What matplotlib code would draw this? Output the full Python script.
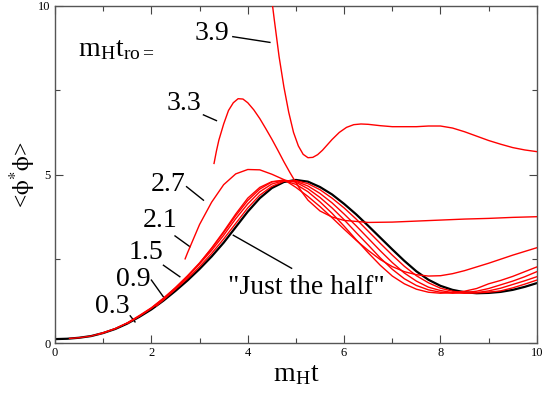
import numpy as np
import matplotlib
matplotlib.use('Agg')
import matplotlib.pyplot as plt

plt.rcParams['font.family'] = ['Liberation Serif', 'DejaVu Serif']
plt.rcParams['mathtext.fontset'] = 'stix'

# "Just the half" (black)
t_half = [0.0, 0.25, 0.5, 0.75, 1.0, 1.25, 1.5, 1.75, 2.0, 2.25, 2.5, 2.75, 3.0, 3.25,
          3.5, 3.75, 4.0, 4.25, 4.5, 4.75, 5.0, 5.25, 5.5, 5.75, 6.0, 6.25, 6.5, 6.75,
          7.0, 7.25, 7.5, 7.75, 8.0, 8.25, 8.5, 8.75, 9.0, 9.25, 9.5, 9.75, 10.0]
v_half = [0.12, 0.13, 0.16, 0.21, 0.30, 0.42, 0.58, 0.78, 1.00, 1.26, 1.55, 1.86, 2.20, 2.57,
          2.98, 3.44, 3.90, 4.30, 4.60, 4.78, 4.84, 4.79, 4.63, 4.41, 4.13, 3.82, 3.48, 3.13,
          2.78, 2.44, 2.13, 1.88, 1.70, 1.58, 1.51, 1.48, 1.49, 1.52, 1.58, 1.67, 1.78]

# readout curves (red)
t_03 = [0.3, 0.5, 0.75, 1.0, 1.25, 1.5, 1.75, 2.0, 2.25, 2.5, 2.75, 3.0, 3.25, 3.5, 3.75,
        4.0, 4.25, 4.5, 4.75, 5.0, 5.25, 5.5, 5.75, 6.0, 6.25, 6.5, 6.75, 7.0, 7.25, 7.5,
        7.75, 8.0, 8.25, 8.5, 8.75, 9.0, 9.25, 9.5, 9.75, 10.0]
v_03 = [0.14, 0.16, 0.21, 0.31, 0.43, 0.60, 0.80, 1.03, 1.30, 1.60, 1.92, 2.27, 2.66, 3.09, 3.55,
        4.01, 4.39, 4.65, 4.80, 4.82, 4.73, 4.55, 4.30, 4.01, 3.68, 3.32, 2.96, 2.61, 2.28, 2.00,
        1.79, 1.63, 1.54, 1.49, 1.49, 1.51, 1.55, 1.64, 1.75, 1.87]

t_09 = [0.9, 1.0, 1.25, 1.5, 1.75, 2.0, 2.25, 2.5, 2.75, 3.0, 3.25, 3.5, 3.75, 4.0, 4.25,
        4.5, 4.75, 5.0, 5.25, 5.5, 5.75, 6.0, 6.25, 6.5, 6.75, 7.0, 7.25, 7.5, 7.75, 8.0,
        8.25, 8.5, 8.75, 9.0, 9.25, 9.5, 9.75, 10.0]
v_09 = [0.26, 0.30, 0.43, 0.60, 0.82, 1.05, 1.33, 1.64, 1.98, 2.35, 2.75, 3.20, 3.69, 4.13, 4.49,
        4.72, 4.82, 4.80, 4.66, 4.44, 4.16, 3.83, 3.48, 3.11, 2.74, 2.39, 2.08, 1.84, 1.66, 1.56,
        1.50, 1.48, 1.50, 1.55, 1.63, 1.74, 1.85, 1.97]

t_15 = [1.5, 1.75, 2.0, 2.25, 2.5, 2.75, 3.0, 3.25, 3.5, 3.75, 4.0, 4.25, 4.5, 4.75, 5.0,
        5.25, 5.5, 5.75, 6.0, 6.25, 6.5, 6.75, 7.0, 7.25, 7.5, 7.75, 8.0, 8.25, 8.5, 8.75,
        9.0, 9.25, 9.5, 9.75, 10.0]
v_15 = [0.58, 0.80, 1.04, 1.33, 1.65, 2.00, 2.38, 2.81, 3.28, 3.78, 4.23, 4.57, 4.78, 4.84, 4.77,
        4.58, 4.32, 4.01, 3.66, 3.28, 2.91, 2.53, 2.19, 1.91, 1.71, 1.58, 1.51, 1.48, 1.50, 1.54,
        1.62, 1.73, 1.84, 1.97, 2.12]

t_21 = [2.1, 2.25, 2.5, 2.75, 3.0, 3.25, 3.5, 3.75, 4.0, 4.25, 4.5, 4.75, 5.0, 5.25, 5.5,
        5.75, 6.0, 6.25, 6.5, 6.75, 7.0, 7.25, 7.5, 7.75, 8.0, 8.25, 8.5, 8.75, 9.0, 9.25,
        9.5, 9.75, 10.0]
v_21 = [1.10, 1.28, 1.61, 1.97, 2.37, 2.82, 3.31, 3.83, 4.30, 4.62, 4.79, 4.82, 4.71, 4.49, 4.19,
        3.85, 3.47, 3.07, 2.68, 2.31, 1.99, 1.76, 1.60, 1.51, 1.48, 1.50, 1.54, 1.62, 1.76, 1.86,
        1.98, 2.12, 2.26]

t_27 = [2.7, 2.75, 3.0, 3.25, 3.5, 3.75, 4.0, 4.25, 4.5, 4.75, 5.0, 5.25, 5.5, 5.75, 6.0,
        6.25, 6.5, 6.75, 7.0, 7.25, 7.5, 7.75, 8.0, 8.25, 8.5, 8.75, 9.0, 9.25, 9.5, 9.75, 10.0]
v_27 = [2.50, 2.68, 3.52, 4.18, 4.70, 5.02, 5.15, 5.14, 5.01, 4.85, 4.62, 4.35, 4.05, 3.72, 3.38,
        3.05, 2.75, 2.48, 2.27, 2.12, 2.03, 1.99, 2.00, 2.06, 2.15, 2.26, 2.37, 2.49, 2.61, 2.72, 2.83]

t_33 = [3.3, 3.35, 3.4, 3.5, 3.6, 3.7, 3.8, 3.9, 4.0, 4.125, 4.25, 4.375, 4.5, 4.625, 4.75,
        4.875, 5.0, 5.125, 5.25, 5.5, 5.75, 6.0, 6.5, 7.0, 7.5, 8.0, 8.5, 9.0, 9.5, 10.0]
v_33 = [5.33, 5.70, 6.02, 6.50, 6.90, 7.13, 7.25, 7.24, 7.13, 6.92, 6.66, 6.36, 6.05, 5.72, 5.38,
        5.06, 4.76, 4.48, 4.24, 3.92, 3.74, 3.64, 3.58, 3.59, 3.62, 3.65, 3.68, 3.70, 3.73, 3.75]

t_39 = [3.9, 4.1, 4.3, 4.45, 4.55, 4.65, 4.75, 4.85, 4.95, 5.05, 5.15, 5.25, 5.35, 5.45, 5.55,
        5.65, 5.75, 5.9, 6.05, 6.2, 6.35, 6.5, 6.75, 7.0, 7.5, 7.75, 8.0, 8.25, 8.5, 8.75,
        9.0, 9.25, 9.5, 9.75, 10.0]
v_39 = [24.0, 17.0, 12.8, 10.75, 9.6, 8.5, 7.6, 6.85, 6.25, 5.85, 5.6, 5.5, 5.51, 5.59, 5.72,
        5.88, 6.04, 6.25, 6.40, 6.48, 6.50, 6.49, 6.45, 6.42, 6.42, 6.44, 6.44, 6.38, 6.27, 6.14,
        6.01, 5.90, 5.80, 5.73, 5.68]

reds = [(t_03, v_03), (t_09, v_09), (t_15, v_15), (t_21, v_21),
        (t_27, v_27), (t_33, v_33), (t_39, v_39)]

# labels: text, text pos, leader start, leader end
labels = [('3.9', (3.26, 9.17), (3.69, 9.09), (4.46, 8.92)),
          ('3.3', (2.67, 7.12), (3.08, 6.77), (3.35, 6.60)),
          ('2.7', (2.35, 4.72), (2.73, 4.64), (3.08, 4.24)),
          ('2.1', (2.19, 3.65), (2.49, 3.18), (2.80, 2.86)),
          ('1.5', (1.88, 2.70), (2.25, 2.31), (2.59, 1.97)),
          ('0.9', (1.63, 1.90), (2.00, 1.87), (2.25, 1.37)),
          ('0.3', (1.19, 1.08), (1.56, 0.81), (1.66, 0.63))]

fig = plt.figure(figsize=(5.45, 3.99), dpi=100)
ax = fig.add_axes([0.101, 0.140, 0.884, 0.845])

ax.plot(t_half, v_half, color='black', lw=1.6, zorder=2)
for t, v in reds:
    ax.plot(t, v, color='red', lw=1.0, zorder=3)

for txt, tp, p0, p1 in labels:
    ax.text(tp[0], tp[1], txt, fontsize=20, ha='center', va='center')
    ax.plot([p0[0], p1[0]], [p0[1], p1[1]], color='black', lw=1.0)

ax.text(5.22, 1.66, '"Just the half"', fontsize=20, ha='center', va='center')
ax.plot([3.70, 4.91], [3.20, 2.22], color='black', lw=1.0)

ax.text(0.48, 8.49, r'm$_\mathregular{H}$t$_\mathregular{ro=}$', fontsize=20,
        ha='left', va='baseline')

ax.set_xlim(0, 10)
ax.set_ylim(0, 10)
ax.set_xticks([0, 2, 4, 6, 8, 10])
ax.set_xticks([1, 3, 5, 7, 9], minor=True)
ax.set_yticks([0, 5, 10])
ax.set_yticks([2.5, 7.5], minor=True)
ax.tick_params(which='both', direction='in', top=True, right=True, labelsize=9, width=0.8,
               color='#444444', pad=3)
ax.tick_params(which='major', length=6)
ax.tick_params(which='minor', length=3.5)
for s in ax.spines.values():
    s.set_linewidth(1.0)
    s.set_color('#555555')

ax.set_xlabel(r'm$_\mathregular{H}$t', fontsize=20, labelpad=2)
ax.text(-0.068, 0.5, r'<$\mathrm{\phi}^{*}\mathrm{\phi}$>', fontsize=17, rotation=90,
        ha='center', va='center', transform=ax.transAxes)

fig.savefig('out.png', dpi=100)
